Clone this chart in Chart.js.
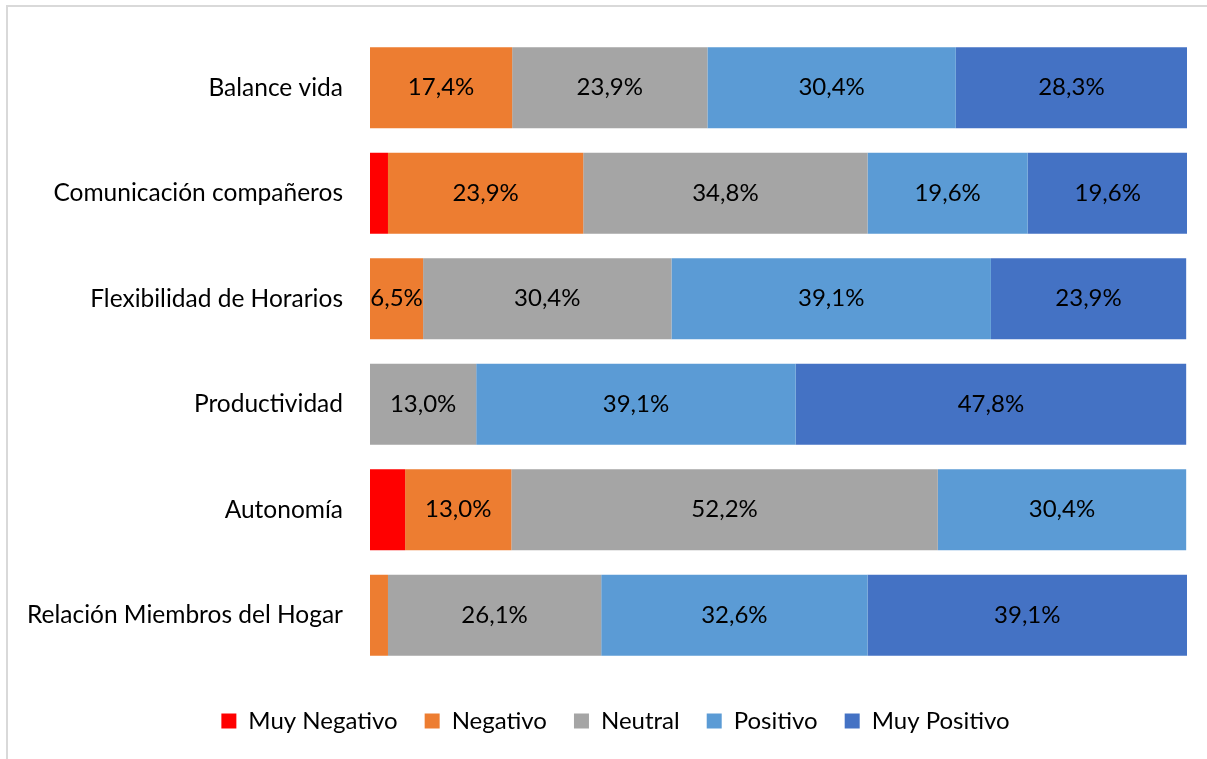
<!DOCTYPE html>
<html lang="es">
<head>
<meta charset="utf-8">
<title>Impacto del teletrabajo</title>
<script src="https://cdn.jsdelivr.net/npm/chart.js@4.4.1/dist/chart.umd.min.js"></script>
<style>
    html, body { margin: 0; padding: 0; background: #fff; overflow: hidden; }
    #wrap { position: relative; width: 1207px; height: 759px; }
    #frame { position: absolute; left: 6px; top: 5px; width: 1400px; height: 900px; border: 2px solid #d9d9d9; box-sizing: border-box; }
    #chart { position: absolute; left: 0; top: 0; }
</style>
</head>
<body>
<div id="wrap">
    <div id="frame"></div>
    <canvas id="chart" width="1207" height="759"></canvas>
</div>
<script>
    // categorías y series (porcentajes)
    const categorias = ['Balance vida', 'Comunicación compañeros', 'Flexibilidad de Horarios', 'Productividad', 'Autonomía', 'Relación Miembros del Hogar'];
    const muyNegativo = [0, 2.2, 0, 0, 4.3, 0];
    const negativo = [17.4, 23.9, 6.5, 0, 13.0, 2.2];
    const neutral = [23.9, 34.8, 30.4, 13.0, 52.2, 26.1];
    const positivo = [30.4, 19.6, 39.1, 39.1, 30.4, 32.6];
    const muyPositivo = [28.3, 19.6, 23.9, 47.8, 0, 39.1];

    const fuente = 'Lato, "Open Sans", sans-serif';

    // etiquetas dentro de las barras
    const etiquetas = {
        id: 'etiquetas',
        afterDatasetsDraw(chart) {
            const ctx = chart.ctx;
            ctx.save();
            ctx.font = '24px ' + fuente;
            ctx.fillStyle = '#000';
            ctx.textAlign = 'center';
            ctx.textBaseline = 'middle';
            chart.data.datasets.forEach((ds, i) => {
                chart.getDatasetMeta(i).data.forEach((bar, j) => {
                    const v = ds.data[j];
                    if (v < 5) return;
                    const x = (bar.x + bar.base) / 2;
                    ctx.fillText(v.toFixed(1).replace('.', ',') + '%', x, bar.y);
                });
            });
            ctx.restore();
        }
    };

    // la leyenda del original está algo desplazada a la derecha
    const moverLeyenda = {
        id: 'moverLeyenda',
        afterLayout(chart) {
            chart.legend.left += 22;
            chart.legend.right += 22;
        }
    };

    new Chart(document.getElementById('chart'), {
        type: 'bar',
        data: {
            labels: categorias,
            datasets: [
                { label: 'Muy Negativo', data: muyNegativo, backgroundColor: '#ff0000' },
                { label: 'Negativo', data: negativo, backgroundColor: '#ed7d31' },
                { label: 'Neutral', data: neutral, backgroundColor: '#a5a5a5' },
                { label: 'Positivo', data: positivo, backgroundColor: '#5b9bd5' },
                { label: 'Muy Positivo', data: muyPositivo, backgroundColor: '#4472c4' }
            ]
        },
        options: {
            indexAxis: 'y',
            responsive: false,
            animation: false,
            datasets: {
                bar: { categoryPercentage: 0.77, barPercentage: 1.0, borderWidth: 0 }
            },
            layout: { padding: { top: 35, right: 20, bottom: 16, left: 0 } },
            scales: {
                x: {
                    stacked: true, min: 0, max: 100,
                    ticks: { display: false },
                    grid: { display: false, drawTicks: false },
                    border: { display: false },
                    afterFit(scale) { scale.height = 14; }
                },
                y: {
                    stacked: true,
                    grid: { display: false, drawTicks: false },
                    border: { display: false },
                    ticks: { color: '#000', padding: 27, font: { family: fuente, size: 24.5 } },
                    afterFit(scale) {
                        scale.width = 370;
                        scale.paddingTop = 0;
                        scale.paddingBottom = 0;
                    }
                }
            },
            plugins: {
                legend: {
                    position: 'bottom',
                    labels: {
                        color: '#000',
                        boxWidth: 15,
                        boxHeight: 15,
                        padding: 27,
                        font: { family: fuente, size: 24 }
                    }
                },
                tooltip: { enabled: false }
            }
        },
        plugins: [etiquetas, moverLeyenda]
    });
</script>
</body>
</html>
